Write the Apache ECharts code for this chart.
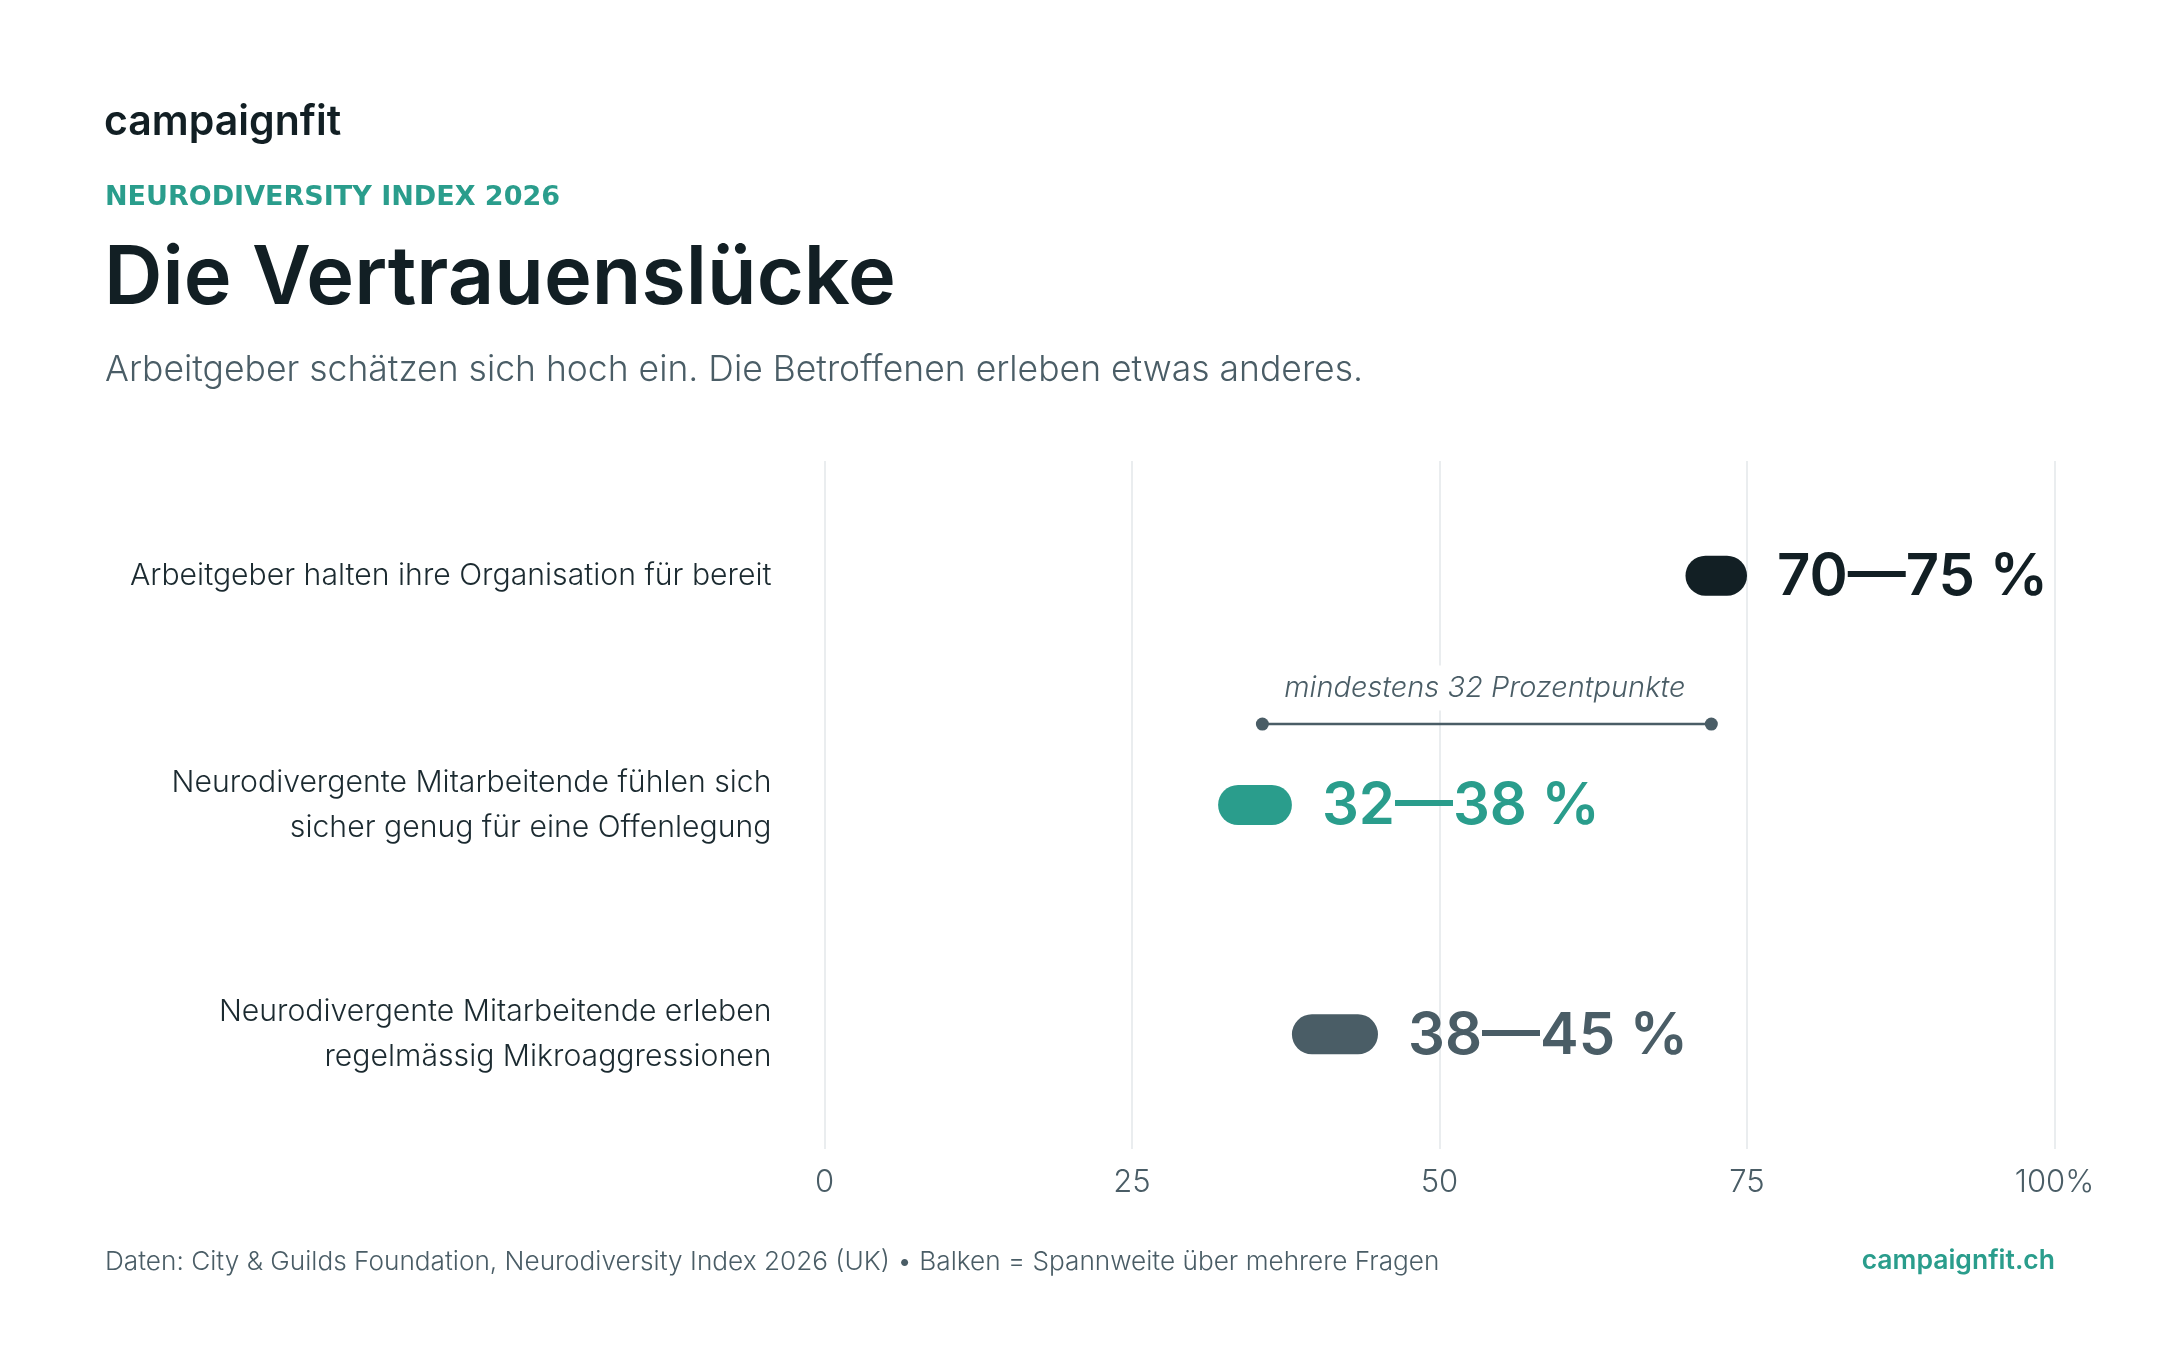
<!DOCTYPE html>
<html>
<head>
<meta charset="utf-8">
<script src="https://cdn.jsdelivr.net/npm/echarts@6/dist/echarts.min.js"></script>
<style>
  html, body { margin: 0; padding: 0; background: #ffffff; }
  #chart { width: 2160px; height: 1350px; }
</style>
</head>
<body>
<div id="chart"></div>
<script>
// ---- Data ----
const categories = [
  'Arbeitgeber halten ihre Organisation für bereit',
  'Neurodivergente Mitarbeitende fühlen sich\nsicher genug für eine Offenlegung',
  'Neurodivergente Mitarbeitende erleben\nregelmässig Mikroaggressionen'
];
const rangeLow = [70, 32, 38];
const rangeHigh = [75, 38, 45];
const rangeLabels = ['70—75 %', '32—38 %', '38—45 %'];
const xTickValues = [0, 25, 50, 75, 100];
const xTickLabels = ['0', '25', '50', '75', '100%'];
const gapFrom = 35.6;
const gapTo = 72.1;
const gapRowPosition = 0.647; // position between row 0 and row 1
const gapLabel = 'mindestens 32 Prozentpunkte';

// ---- Style ----
const DARK = '#121f24';
const TEAL = '#2a9d8c';
const SLATE = '#4a5d66';
const GRID = '#e3e7ea';
const barColors = [DARK, TEAL, SLATE];
const FONT = 'Inter, "Noto Sans", sans-serif';

const chart = echarts.init(document.getElementById('chart'), null, { renderer: 'canvas' });

const rangeData = categories.map((c, i) => [rangeLow[i], rangeHigh[i], i]);

const option = {
  backgroundColor: '#ffffff',
  animation: false,
  textStyle: { fontFamily: FONT },
  grid: { left: 824.5, right: 105.5, top: 461, bottom: 201, containLabel: false },
  xAxis: {
    type: 'value',
    min: 0, max: 100, interval: 25,
    axisLine: { show: false },
    axisTick: { show: false },
    splitLine: { show: true, lineStyle: { color: GRID, width: 1.5 } },
    axisLabel: {
      margin: 18,
      color: SLATE,
      fontFamily: FONT,
      fontSize: 31,
      fontWeight: 300,
      formatter: function (v) {
        const idx = xTickValues.indexOf(v);
        return idx >= 0 ? xTickLabels[idx] : '';
      }
    }
  },
  yAxis: {
    type: 'category',
    data: categories,
    inverse: true,
    axisLine: { show: false },
    axisTick: { show: false },
    splitLine: { show: false },
    axisLabel: {
      margin: 53,
      align: 'right',
      color: '#1b2a30',
      fontFamily: FONT,
      fontSize: 30.2,
      fontWeight: 300,
      lineHeight: 45
    }
  },
  series: [
    {
      type: 'custom',
      name: 'gap',
      coordinateSystem: 'cartesian2d',
      encode: { x: [0, 1], y: 2 },
      data: [[gapFrom, gapTo, 0]],
      z: 3,
      renderItem: function (params, api) {
        const a0 = api.coord([api.value(0), 0]);
        const a1 = api.coord([api.value(0), 1]);
        const b0 = api.coord([api.value(1), 0]);
        const y = a0[1] + (a1[1] - a0[1]) * gapRowPosition;
        const x1 = a0[0], x2 = b0[0];
        return {
          type: 'group',
          children: [
            { type: 'line', shape: { x1: x1, y1: y, x2: x2, y2: y }, style: { stroke: SLATE, lineWidth: 2.5 } },
            { type: 'circle', shape: { cx: x1, cy: y, r: 6.5 }, style: { fill: SLATE } },
            { type: 'circle', shape: { cx: x2, cy: y, r: 6.5 }, style: { fill: SLATE } },
            {
              type: 'text',
              style: {
                x: (x1 + x2) / 2 - 2, y: y - 36,
                text: gapLabel,
                align: 'center', verticalAlign: 'middle',
                fill: SLATE,
                font: 'italic 300 29px ' + FONT,
                backgroundColor: '#ffffff',
                padding: [8, 10]
              }
            }
          ]
        };
      }
    },
    {
      type: 'custom',
      name: 'ranges',
      coordinateSystem: 'cartesian2d',
      encode: { x: [0, 1], y: 2 },
      data: rangeData,
      z: 4,
      renderItem: function (params, api) {
        const i = params.dataIndex;
        const p0 = api.coord([api.value(0), api.value(2)]);
        const p1 = api.coord([api.value(1), api.value(2)]);
        const h = 40;
        const color = barColors[i];
        return {
          type: 'group',
          children: [
            {
              type: 'rect',
              shape: { x: p0[0], y: p0[1] - h / 2, width: p1[0] - p0[0], height: h, r: h / 2 },
              style: { fill: color }
            },
            {
              type: 'text',
              style: {
                x: p1[0] + 30, y: p1[1] + 2,
                text: rangeLabels[i],
                align: 'left', verticalAlign: 'middle',
                fill: color,
                font: '600 58px ' + FONT
              }
            }
          ]
        };
      }
    }
  ],
  graphic: [
    { type: 'text', left: 104, top: 102, style: { text: 'campaignfit', fill: DARK, font: '600 41px ' + FONT } },
    { type: 'text', left: 105, top: 184, style: { text: 'NEURODIVERSITY INDEX 2026', fill: TEAL, font: 'bold 27px "DejaVu Sans", ' + FONT } },
    { type: 'text', left: 104, top: 239, style: { text: 'Die Vertrauenslücke', fill: DARK, font: '600 81px ' + FONT } },
    { type: 'text', left: 105, top: 352, style: { text: 'Arbeitgeber schätzen sich hoch ein. Die Betroffenen erleben etwas anderes.', fill: SLATE, font: '300 35.5px ' + FONT } },
    { type: 'text', left: 105, top: 1249, style: { text: 'Daten: City & Guilds Foundation, Neurodiversity Index 2026 (UK) • Balken = Spannweite über mehrere Fragen', fill: SLATE, font: '300 26.2px ' + FONT } },
    { type: 'text', right: 105, top: 1248, style: { text: 'campaignfit.ch', fill: TEAL, font: '600 26.5px ' + FONT } }
  ]
};

chart.setOption(option);
</script>
</body>
</html>
